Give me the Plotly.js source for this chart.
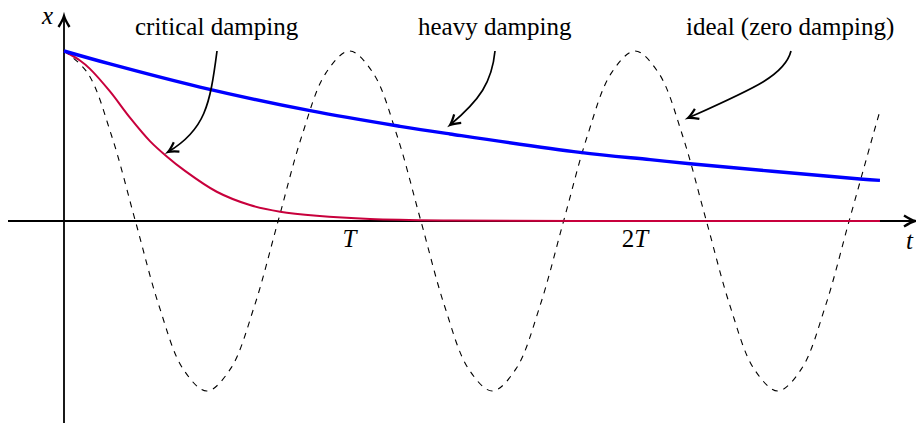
<!DOCTYPE html>
<html>
<head>
<meta charset="utf-8">
<script src="https://cdn.plot.ly/plotly-3.0.1.min.js"></script>
<style>
  html, body { margin: 0; padding: 0; background: #fff; }
  #chart { width: 916px; height: 423px; }
</style>
</head>
<body>
<div id="chart"></div>
<script>
// Time is measured in periods T of the undamped oscillator, displacement in units of the start amplitude.

// ideal (zero damping) oscillation
const tIdeal = [0, 0.083, 0.167, 0.25, 0.333, 0.417, 0.5, 0.583, 0.667, 0.75, 0.833, 0.917,
                1, 1.083, 1.167, 1.25, 1.333, 1.417, 1.5, 1.583, 1.667, 1.75, 1.833, 1.917,
                2, 2.083, 2.167, 2.25, 2.333, 2.417, 2.5, 2.583, 2.667, 2.75, 2.833, 2.855];
const xIdeal = [1, 0.87, 0.5, 0, -0.5, -0.87, -1, -0.87, -0.5, 0, 0.5, 0.87,
                1, 0.87, 0.5, 0, -0.5, -0.87, -1, -0.87, -0.5, 0, 0.5, 0.87,
                1, 0.87, 0.5, 0, -0.5, -0.87, -1, -0.87, -0.5, 0, 0.5, 0.63];

// critical damping
const tCritical = [0, 0.056, 0.091, 0.161, 0.231, 0.301, 0.361, 0.418, 0.535, 0.651, 0.757, 0.885, 1.072, 1.352, 1.8, 2.858];
const xCritical = [1, 0.944, 0.895, 0.762, 0.608, 0.47, 0.378, 0.302, 0.172, 0.094, 0.055, 0.031, 0.012, 0.003, 0, 0];

// heavy damping
const tHeavy = [0, 0.161, 0.476, 0.862, 1.177, 1.352, 1.807, 2.053, 2.193, 2.788, 2.858];
const xHeavy = [1, 0.924, 0.788, 0.649, 0.557, 0.512, 0.404, 0.361, 0.337, 0.247, 0.239];

// time-axis tick labels
const tickPos = [1, 2];
const tickText = ['<i>T</i>', '2<i>T</i>'];

const W = 916, H = 423;
const SERIF = '"Liberation Serif", "DejaVu Serif", serif';

// pixel -> paper helpers (the plot fills the whole figure)
const px = x => x / W;
const py = y => 1 - y / H;
const P = (x, y) => px(x).toFixed(5) + ',' + py(y).toFixed(5);

// open "to"-style arrow head, tip at (x, y), pointing along (dx, dy) in pixels
function arrowHead(x, y, dx, dy, L, Wd) {
  const n = Math.hypot(dx, dy); const ux = dx / n, uy = dy / n;
  const vx = -uy, vy = ux;
  const pt = (a, b) => P(x + ux * a + vx * b, y + uy * a + vy * b);
  return 'M' + pt(-L, Wd) + ' Q' + pt(-0.35 * L, 0.2 * Wd) + ' ' + pt(0, 0) +
         ' Q' + pt(-0.35 * L, -0.2 * Wd) + ' ' + pt(-L, -Wd);
}
function curve(p0, p1, p2, p3) {
  return 'M' + P(...p0) + ' C' + P(...p1) + ' ' + P(...p2) + ' ' + P(...p3);
}

const lineShape = (path, layer, w) => ({
  type: 'path', xref: 'paper', yref: 'paper', path: path, layer: layer,
  line: { color: '#000', width: w }
});

const shapes = [
  // axes
  { type: 'line', xref: 'paper', yref: 'paper', x0: px(8), x1: px(912), y0: py(221), y1: py(221),
    layer: 'below', line: { color: '#000', width: 1.8 } },
  { type: 'line', xref: 'paper', yref: 'paper', x0: px(64), x1: px(64), y0: py(423), y1: py(19),
    layer: 'below', line: { color: '#000', width: 1.8 } },
  lineShape(arrowHead(915, 221, 1, 0, 11, 5.5), 'above', 2.4),
  lineShape(arrowHead(64, 16, 0, -1, 11, 5.5), 'above', 2.4),
  // pointer arrows
  lineShape(curve([217, 51], [210, 105], [205, 130], [168, 152]), 'above', 1.7),
  lineShape(arrowHead(168, 152, -37, 22, 10, 5.5), 'above', 2.2),
  lineShape(curve([495, 51], [492, 82], [480, 100], [450, 125]), 'above', 1.7),
  lineShape(arrowHead(450, 125, -30, 25, 10, 5.5), 'above', 2.2),
  lineShape(curve([791, 51], [785, 75], [755, 88], [688, 118]), 'above', 1.7),
  lineShape(arrowHead(688, 118, -67, 30, 10, 5.5), 'above', 2.2)
];

const txt = (text, x, y, xanchor, italic) => ({
  xref: 'paper', yref: 'paper', x: px(x), y: py(y), text: italic ? '<i>' + text + '</i>' : text,
  showarrow: false, xanchor: xanchor, yanchor: 'middle',
  font: { family: SERIF, size: 25, color: '#000' }
});

const annotations = [
  txt('critical damping', 217, 27, 'center'),
  txt('heavy damping', 495, 27, 'center'),
  txt('ideal (zero damping)', 790, 27, 'center'),
  txt('x', 47, 15, 'center', true),
  txt('t', 904, 240, 'left', true)
];

const traces = [
  { x: tIdeal, y: xIdeal, mode: 'lines', line: { color: '#000', width: 1.1, dash: '6px,6px', shape: 'spline', smoothing: 1 },
    hoverinfo: 'skip' },
  { x: tCritical, y: xCritical, mode: 'lines', line: { color: '#c8003c', width: 2, shape: 'spline', smoothing: 1 },
    hoverinfo: 'skip' },
  { x: tHeavy, y: xHeavy, mode: 'lines', line: { color: '#0000ff', width: 3.4, shape: 'spline', smoothing: 1 },
    hoverinfo: 'skip' }
];

const layout = {
  width: W, height: H,
  margin: { l: 0, r: 0, t: 0, b: 0, pad: 0 },
  paper_bgcolor: '#fff', plot_bgcolor: '#fff',
  showlegend: false,
  xaxis: {
    range: [-64 / 285.5, (W - 64) / 285.5],
    showgrid: false, zeroline: false, showline: false, ticks: '',
    tickmode: 'array', tickvals: tickPos, ticktext: tickText,
    tickfont: { family: SERIF, size: 25, color: '#000' },
    anchor: 'free', position: py(221), ticklabelstandoff: 0
  },
  yaxis: {
    range: [-(H - 221) / 170, 221 / 170],
    showgrid: false, zeroline: false, showline: false, showticklabels: false, ticks: ''
  },
  shapes: shapes,
  annotations: annotations
};

Plotly.newPlot('chart', traces, layout, { staticPlot: true, displayModeBar: false });
</script>
</body>
</html>
